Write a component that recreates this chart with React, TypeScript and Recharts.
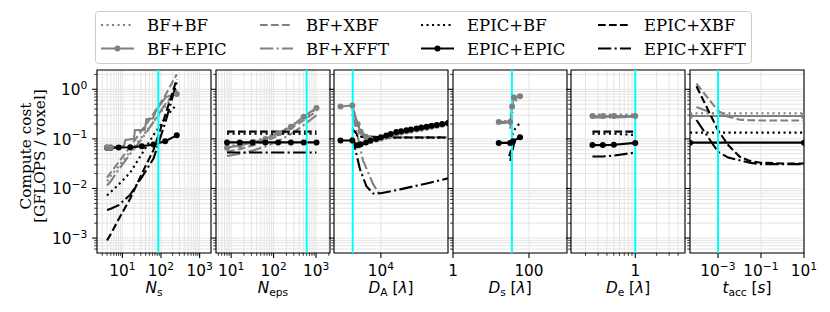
import React from "react";
import {
  LineChart,
  Line,
  XAxis,
  YAxis,
  CartesianGrid,
  ReferenceLine,
  ReferenceArea,
} from "recharts";

type Pt = [number, number];
type TickLabel = [number, string, string];

const GRAY = "#808080";
const BLACK = "#000000";
const CYAN = "#00ffff";
const GRID = "#e4e4e4";
const SERIF = "'DejaVu Serif', serif";
const SANS = "'DejaVu Sans', sans-serif";
const FS = 15.3;
const FS_SMALL = 10.7;
const FS_LEGEND = 16.5;

const SERIES_NAMES = ["BF+BF", "BF+EPIC", "BF+XBF", "BF+XFFT", "EPIC+BF", "EPIC+EPIC", "EPIC+XBF", "EPIC+XFFT"];

// shared log y axis
const Y_DOMAIN: [number, number] = [5e-4, 2.45];
const Y_MAJOR = [1e-3, 1e-2, 1e-1, 1];
const Y_EXP = ["−3", "−2", "−1", "0"];
const Y_MINOR = [
  6e-4, 7e-4, 8e-4, 9e-4,
  2e-3, 3e-3, 4e-3, 5e-3, 6e-3, 7e-3, 8e-3, 9e-3,
  2e-2, 3e-2, 4e-2, 5e-2, 6e-2, 7e-2, 8e-2, 9e-2,
  0.2, 0.3, 0.4, 0.5, 0.6, 0.7, 0.8, 0.9, 2,
];

// ---- panel 1: N_s ----
const NS_X = [4, 5, 8, 16, 32, 64, 128, 256];
const NS_BF_BF = [0.014, 0.018, 0.028, 0.056, 0.11, 0.22, 0.45, 0.9];
const NS_BF_EPIC: Pt[] = [
  [4, 0.068], [5, 0.068], [8, 0.07], [11, 0.072], [12, 0.095], [20, 0.1], [21, 0.15],
  [38, 0.152], [42, 0.25], [62, 0.26], [75, 0.38], [135, 0.7], [256, 0.8],
];
const NS_BF_EPIC_MARKS: Pt[] = [[4, 0.068], [5, 0.068], [256, 0.8]];
const NS_BF_XBF = [0.0165, 0.021, 0.034, 0.07, 0.15, 0.32, 0.75, 2.0];
const NS_BF_XFFT = [0.0115, 0.014, 0.024, 0.05, 0.1, 0.22, 0.5, 1.0];
const NS_EPIC_BF = [0.0072, 0.0085, 0.012, 0.021, 0.05, 0.12, 0.26, 0.5];
const NS_EPIC_EPIC = [0.066, 0.066, 0.067, 0.068, 0.071, 0.077, 0.09, 0.118];
const NS_EPIC_XBF = [0.0009, 0.0012, 0.0024, 0.0063, 0.02, 0.06, 0.3, 1.6];
const NS_EPIC_XFFT = [0.0037, 0.0039, 0.0046, 0.0075, 0.017, 0.04, 0.21, 1.4];
const NS_TICKS: TickLabel[] = [[10, "10", "1"], [100, "10", "2"], [1000, "10", "3"]];
const NS_MINOR = [3, 4, 5, 6, 7, 8, 9, 20, 30, 40, 50, 60, 70, 80, 90, 200, 300, 400, 500, 600, 700, 800, 900];

// ---- panel 2: N_eps ----
const NEPS_X = [8, 16, 32, 64, 128, 256, 512, 1024];
const NEPS_BF_BF = [0.07, 0.078, 0.09, 0.105, 0.135, 0.18, 0.27, 0.4];
const NEPS_BF_EPIC = [0.066, 0.074, 0.085, 0.1, 0.13, 0.175, 0.28, 0.42];
const NEPS_BF_XBF = [0.055, 0.062, 0.074, 0.09, 0.115, 0.16, 0.24, 0.36];
const NEPS_BF_XFFT = [0.045, 0.05, 0.058, 0.07, 0.09, 0.125, 0.19, 0.3];
const NEPS_EPIC_BF = [0.127, 0.127, 0.127, 0.127, 0.127, 0.127, 0.127, 0.127];
const NEPS_EPIC_EPIC = [0.085, 0.085, 0.085, 0.085, 0.085, 0.085, 0.085, 0.085];
const NEPS_EPIC_XBF = [0.14, 0.14, 0.14, 0.14, 0.14, 0.14, 0.14, 0.14];
const NEPS_EPIC_XFFT = [0.053, 0.053, 0.053, 0.053, 0.053, 0.053, 0.053, 0.053];
const NEPS_TICKS: TickLabel[] = [[10, "10", "1"], [100, "10", "2"], [1000, "10", "3"]];
const NEPS_MINOR = [5, 6, 7, 8, 9, 20, 30, 40, 50, 60, 70, 80, 90, 200, 300, 400, 500, 600, 700, 800, 900, 2000];

// ---- panel 3: D_A ----
const DA_X = [2500, 3750, 4500, 5000, 6000, 7000, 8500, 10000, 12000, 14000, 17000, 20000, 24000, 28000, 34000, 40000, 48000, 57000, 68000, 82000, 100000];
const DA_EPIC_EPIC = [0.093, 0.093, 0.074, 0.078, 0.085, 0.092, 0.1, 0.108, 0.117, 0.126, 0.137, 0.143, 0.149, 0.155, 0.162, 0.169, 0.176, 0.183, 0.191, 0.2, 0.21];
const DA_BF_EPIC = [0.45, 0.47, 0.2, 0.14, 0.11, 0.098, 0.097, 0.102, 0.11, 0.118, 0.128, 0.135, 0.141, 0.147, 0.154, 0.161, 0.168, 0.175, 0.183, 0.192, 0.202];
const DA_BF_BF: Pt[] = [[3750, 0.42], [4500, 0.19], [5000, 0.13], [6000, 0.11], [10000, 0.105], [100000, 0.105]];
const DA_BF_XBF: Pt[] = [[3750, 0.38], [4500, 0.2], [5000, 0.14], [6000, 0.115], [10000, 0.108], [100000, 0.108]];
const DA_BF_XFFT: Pt[] = [[3750, 0.32], [4100, 0.2], [5400, 0.037], [7600, 0.0125], [9600, 0.0075]];
const DA_EPIC_BF: Pt[] = [[3750, 0.145], [4500, 0.115], [6000, 0.107], [10000, 0.107], [100000, 0.107]];
const DA_EPIC_XBF: Pt[] = [[3750, 0.16], [4500, 0.12], [5000, 0.112], [6000, 0.108], [10000, 0.107], [100000, 0.107]];
const DA_EPIC_XFFT: Pt[] = [[3750, 0.11], [4900, 0.024], [6100, 0.011], [7700, 0.0079], [10000, 0.008], [20000, 0.0097], [50000, 0.0128], [100000, 0.016]];
const DA_TICKS: TickLabel[] = [[10000, "10", "4"]];

// ---- panel 4: D_s ----
const DS_BF_BF: Pt[] = [[16, 0.23], [32, 0.23], [36, 0.5], [58, 0.7]];
const DS_BF_EPIC: Pt[] = [[16, 0.22], [32, 0.22], [36, 0.45], [40, 0.68], [58, 0.72]];
const DS_BF_XBF: Pt[] = [[16, 0.21], [32, 0.21], [38, 0.35]];
const DS_BF_XFFT: Pt[] = [[32, 0.16], [36, 0.3]];
const DS_EPIC_BF: Pt[] = [[36, 0.12], [43, 0.16], [55, 0.2]];
const DS_EPIC_EPIC: Pt[] = [[16, 0.083], [32, 0.083], [38, 0.09], [58, 0.108]];
const DS_EPIC_XBF: Pt[] = [[32, 0.036], [38, 0.065], [43, 0.1]];
const DS_EPIC_XFFT: Pt[] = [[30, 0.045], [34, 0.06]];
const DS_TICKS: TickLabel[] = [[1, "1", ""], [100, "100", ""]];

// ---- panel 5: D_e ----
const DE_X = [0.25, 0.35, 0.5, 1];
const DE_BF_BF = [0.31, 0.31, 0.31, 0.31];
const DE_BF_EPIC = [0.29, 0.29, 0.29, 0.29];
const DE_BF_XBF = [0.28, 0.28, 0.28, 0.28];
const DE_BF_XFFT = [0.27, 0.27, 0.27, 0.28];
const DE_EPIC_BF = [0.127, 0.127, 0.127, 0.12];
const DE_EPIC_EPIC = [0.075, 0.075, 0.076, 0.083];
const DE_EPIC_XBF = [0.14, 0.14, 0.14, 0.14];
const DE_EPIC_XFFT = [0.044, 0.044, 0.046, 0.053];
const DE_TICKS: TickLabel[] = [[1, "1", ""]];
const DE_MINOR = [0.2, 0.3, 0.4, 0.5, 0.6, 0.7, 0.8, 0.9, 2, 3, 4];

// ---- panel 6: t_acc ----
const TA_BF_BF: Pt[] = [[5e-5, 0.33], [10, 0.33]];
const TA_BF_EPIC: Pt[] = [[5e-5, 0.29], [10, 0.29]];
const TA_BF_XBF: Pt[] = [[1e-4, 1.3], [1e-3, 0.37], [3e-3, 0.28], [1e-2, 0.245], [3e-2, 0.237], [0.1, 0.235], [1, 0.235], [10, 0.235]];
const TA_BF_XFFT: Pt[] = [[1e-4, 0.44], [1e-3, 0.3], [1e-2, 0.29], [10, 0.29]];
const TA_EPIC_BF: Pt[] = [[5e-5, 0.134], [10, 0.134]];
const TA_EPIC_EPIC: Pt[] = [[5e-5, 0.084], [10, 0.084]];
const TA_EPIC_XBF: Pt[] = [[1e-4, 1.15], [1e-3, 0.15], [3e-3, 0.075], [1e-2, 0.044], [3e-2, 0.036], [0.1, 0.033], [1, 0.032], [10, 0.032]];
const TA_EPIC_XFFT: Pt[] = [[1e-4, 0.24], [1e-3, 0.055], [3e-3, 0.042], [1e-2, 0.037], [3e-2, 0.033], [0.1, 0.031], [1, 0.031], [10, 0.031]];
const TA_TICKS: TickLabel[] = [[1e-3, "10", "−3"], [1e-1, "10", "−1"], [10, "10", "1"]];

// layout
const PANEL_LEFTS = [97, 216, 334, 453, 571, 690];
const PANEL_W = 114;
const PLOT_TOP = 70;
const PLOT_BOTTOM = 253;
const X_AXIS_H = 45;
const PAD_R = 22;

const STYLES: Record<string, { color: string; dash?: string; dot: boolean }> = {
  "BF+BF": { color: GRAY, dash: "2.1 3.4", dot: false },
  "BF+EPIC": { color: GRAY, dot: true },
  "BF+XBF": { color: GRAY, dash: "7.7 3.3", dot: false },
  "BF+XFFT": { color: GRAY, dash: "13.3 3.3 2.1 3.3", dot: false },
  "EPIC+BF": { color: BLACK, dash: "2.1 3.4", dot: false },
  "EPIC+EPIC": { color: BLACK, dot: true },
  "EPIC+XBF": { color: BLACK, dash: "7.7 3.3", dot: false },
  "EPIC+XFFT": { color: BLACK, dash: "13.3 3.3 2.1 3.3", dot: false },
};

const zip = (xs: number[], ys: number[]) => xs.map((x, i) => ({ x, y: ys[i] }));
const pts = (p: Pt[]) => p.map(([x, y]) => ({ x, y }));

type Series = { name: string; data: { x: number; y: number }[]; marks?: { x: number; y: number }[] };
type PanelDef = {
  domain: [number, number];
  major: TickLabel[];
  minor: number[];
  cyan: number;
  title: { main: string; sub: string; unit: string };
  series: Series[];
};

const PANELS: PanelDef[] = [
  {
    domain: [2.2, 1970], major: NS_TICKS, minor: NS_MINOR, cyan: 85,
    title: { main: "N", sub: "s", unit: "" },
    series: [
      { name: "BF+BF", data: zip(NS_X, NS_BF_BF) },
      { name: "BF+EPIC", data: pts(NS_BF_EPIC), marks: pts(NS_BF_EPIC_MARKS) },
      { name: "BF+XBF", data: zip(NS_X, NS_BF_XBF) },
      { name: "BF+XFFT", data: zip(NS_X, NS_BF_XFFT) },
      { name: "EPIC+BF", data: zip(NS_X, NS_EPIC_BF) },
      { name: "EPIC+EPIC", data: zip(NS_X, NS_EPIC_EPIC) },
      { name: "EPIC+XBF", data: zip(NS_X, NS_EPIC_XBF) },
      { name: "EPIC+XFFT", data: zip(NS_X, NS_EPIC_XFFT) },
    ],
  },
  {
    domain: [4.4, 2130], major: NEPS_TICKS, minor: NEPS_MINOR, cyan: 600,
    title: { main: "N", sub: "eps", unit: "" },
    series: [
      { name: "BF+BF", data: zip(NEPS_X, NEPS_BF_BF) },
      { name: "BF+EPIC", data: zip(NEPS_X, NEPS_BF_EPIC) },
      { name: "BF+XBF", data: zip(NEPS_X, NEPS_BF_XBF) },
      { name: "BF+XFFT", data: zip(NEPS_X, NEPS_BF_XFFT) },
      { name: "EPIC+BF", data: zip(NEPS_X, NEPS_EPIC_BF) },
      { name: "EPIC+EPIC", data: zip(NEPS_X, NEPS_EPIC_EPIC) },
      { name: "EPIC+XBF", data: zip(NEPS_X, NEPS_EPIC_XBF) },
      { name: "EPIC+XFFT", data: zip(NEPS_X, NEPS_EPIC_XFFT) },
    ],
  },
  {
    domain: [2000, 100000], major: DA_TICKS, minor: [], cyan: 3800,
    title: { main: "D", sub: "A", unit: "λ" },
    series: [
      { name: "BF+BF", data: pts(DA_BF_BF) },
      { name: "BF+EPIC", data: zip(DA_X, DA_BF_EPIC) },
      { name: "BF+XBF", data: pts(DA_BF_XBF) },
      { name: "BF+XFFT", data: pts(DA_BF_XFFT) },
      { name: "EPIC+BF", data: pts(DA_EPIC_BF) },
      { name: "EPIC+EPIC", data: zip(DA_X, DA_EPIC_EPIC) },
      { name: "EPIC+XBF", data: pts(DA_EPIC_XBF) },
      { name: "EPIC+XFFT", data: pts(DA_EPIC_XFFT) },
    ],
  },
  {
    domain: [1, 1000], major: DS_TICKS, minor: [], cyan: 35.5,
    title: { main: "D", sub: "s", unit: "λ" },
    series: [
      { name: "BF+BF", data: pts(DS_BF_BF) },
      { name: "BF+EPIC", data: pts(DS_BF_EPIC) },
      { name: "BF+XBF", data: pts(DS_BF_XBF) },
      { name: "BF+XFFT", data: pts(DS_BF_XFFT) },
      { name: "EPIC+BF", data: pts(DS_EPIC_BF) },
      { name: "EPIC+EPIC", data: pts(DS_EPIC_EPIC) },
      { name: "EPIC+XBF", data: pts(DS_EPIC_XBF) },
      { name: "EPIC+XFFT", data: pts(DS_EPIC_XFFT) },
    ],
  },
  {
    domain: [0.125, 5], major: DE_TICKS, minor: DE_MINOR, cyan: 1,
    title: { main: "D", sub: "e", unit: "λ" },
    series: [
      { name: "BF+BF", data: zip(DE_X, DE_BF_BF) },
      { name: "BF+EPIC", data: zip(DE_X, DE_BF_EPIC) },
      { name: "BF+XBF", data: zip(DE_X, DE_BF_XBF) },
      { name: "BF+XFFT", data: zip(DE_X, DE_BF_XFFT) },
      { name: "EPIC+BF", data: zip(DE_X, DE_EPIC_BF) },
      { name: "EPIC+EPIC", data: zip(DE_X, DE_EPIC_EPIC) },
      { name: "EPIC+XBF", data: zip(DE_X, DE_EPIC_XBF) },
      { name: "EPIC+XFFT", data: zip(DE_X, DE_EPIC_XFFT) },
    ],
  },
  {
    domain: [5e-5, 10], major: TA_TICKS, minor: [], cyan: 1e-3,
    title: { main: "t", sub: "acc", unit: "s" },
    series: [
      { name: "BF+BF", data: pts(TA_BF_BF) },
      { name: "BF+EPIC", data: pts(TA_BF_EPIC) },
      { name: "BF+XBF", data: pts(TA_BF_XBF) },
      { name: "BF+XFFT", data: pts(TA_BF_XFFT) },
      { name: "EPIC+BF", data: pts(TA_EPIC_BF) },
      { name: "EPIC+EPIC", data: pts(TA_EPIC_EPIC) },
      { name: "EPIC+XBF", data: pts(TA_EPIC_XBF) },
      { name: "EPIC+XFFT", data: pts(TA_EPIC_XFFT) },
    ],
  },
];

function makeXTick(labels: TickLabel[]) {
  return function XTick(props: any) {
    const { x, y, payload } = props;
    const lab = labels.find((l) => l[0] === payload.value);
    const len = lab ? 4.9 : 2.8;
    return (
      <g>
        <line x1={x} x2={x} y1={y} y2={y + len} stroke="#000" strokeWidth={lab ? 1.1 : 0.8} />
        {lab && (
          <text x={x} y={y + 23} textAnchor="middle" fontFamily={SANS} fontSize={FS} fill="#000">
            {lab[1]}
            {lab[2] && (
              <tspan dy={-6.5} fontSize={FS_SMALL}>
                {lab[2]}
              </tspan>
            )}
          </text>
        )}
      </g>
    );
  };
}

function YTick(props: any) {
  const { x, y, payload, showLabel } = props;
  const idx = Y_MAJOR.indexOf(payload.value);
  const major = idx >= 0;
  const len = major ? 4.9 : 2.8;
  return (
    <g>
      <line x1={x - len} x2={x} y1={y} y2={y} stroke="#000" strokeWidth={major ? 1.1 : 0.8} />
      {showLabel && major && (
        <text x={x - 9.8} y={y + 6} textAnchor="end" fontFamily={SANS} fontSize={FS} fill="#000">
          10
          <tspan dy={-6.5} fontSize={FS_SMALL}>
            {Y_EXP[idx]}
          </tspan>
        </text>
      )}
    </g>
  );
}

function AxisTitle(props: any) {
  const { viewBox, t } = props;
  const cx = viewBox.x + viewBox.width / 2;
  const y = viewBox.y + 39.5;
  return (
    <text x={cx} y={y} textAnchor="middle" fontFamily={SANS} fontSize={FS} fill="#000" style={{ whiteSpace: "pre" }}>
      <tspan fontStyle="italic">{t.main}</tspan>
      <tspan fontSize={FS_SMALL} dy={3}>
        {t.sub}
      </tspan>
      {t.unit && <tspan dy={-3}> [</tspan>}
      {t.unit && <tspan fontStyle="italic">{t.unit}</tspan>}
      {t.unit && <tspan>]</tspan>}
    </text>
  );
}

function YTitle() {
  const cy = 156;
  return (
    <g fontFamily={SERIF} fontSize={FS} fill="#000">
      <text transform={`rotate(-90, 31, ${cy})`} x={31} y={cy} textAnchor="middle">
        Compute cost
      </text>
      <text transform={`rotate(-90, 45, ${cy})`} x={45} y={cy} textAnchor="middle">
        [GFLOPS / voxel]
      </text>
    </g>
  );
}

function Panel({ p, index }: { p: PanelDef; index: number }) {
  const first = index === 0;
  const padL = first ? PANEL_LEFTS[0] : 12;
  const left = PANEL_LEFTS[index] - padL;
  const width = padL + PANEL_W + PAD_R;
  const xTicks = [...p.major.map((m) => m[0]), ...p.minor].sort((a, b) => a - b);
  const yTicks = [...Y_MAJOR, ...Y_MINOR].sort((a, b) => a - b);
  return (
    <div style={{ position: "absolute", left, top: 0 }}>
      <LineChart
        width={width}
        height={312}
        margin={{ top: PLOT_TOP, right: PAD_R, bottom: 312 - PLOT_BOTTOM - X_AXIS_H, left: 0 }}
      >
        <CartesianGrid stroke={GRID} strokeWidth={1} />
        <XAxis
          type="number"
          dataKey="x"
          scale="log"
          domain={p.domain}
          allowDataOverflow
          ticks={xTicks}
          interval={0}
          tickSize={0}
          tickMargin={0}
          tickLine={false}
          axisLine={false}
          height={X_AXIS_H}
          tick={makeXTick(p.major)}
          label={<AxisTitle t={p.title} />}
        />
        <YAxis
          type="number"
          dataKey="y"
          scale="log"
          domain={Y_DOMAIN}
          allowDataOverflow
          ticks={yTicks}
          interval={0}
          tickSize={0}
          tickMargin={0}
          tickLine={false}
          axisLine={false}
          width={padL}
          tick={(props: any) => <YTick {...props} showLabel={first} />}
          label={first ? <YTitle /> : undefined}
        />
        {p.series.map((s) => {
          const st = STYLES[s.name];
          const dotOn = st.dot && !s.marks;
          return (
            <Line
              key={s.name}
              data={s.data}
              dataKey="y"
              name={s.name}
              type="linear"
              stroke={st.color}
              strokeWidth={2.1}
              strokeDasharray={st.dash}
              dot={dotOn ? { r: 3, fill: st.color, stroke: st.color, strokeWidth: 0 } : false}
              activeDot={false}
              isAnimationActive={false}
            />
          );
        })}
        {p.series
          .filter((s) => s.marks)
          .map((s) => (
            <Line
              key={s.name + "-marks"}
              data={s.marks}
              dataKey="y"
              type="linear"
              stroke="none"
              dot={{ r: 3, fill: STYLES[s.name].color, stroke: STYLES[s.name].color, strokeWidth: 0 }}
              activeDot={false}
              isAnimationActive={false}
            />
          ))}
        <ReferenceLine x={p.cyan} stroke={CYAN} strokeWidth={2} />
        <ReferenceArea
          x1={p.domain[0]}
          x2={p.domain[1]}
          y1={Y_DOMAIN[0]}
          y2={Y_DOMAIN[1]}
          fill="none"
          fillOpacity={0}
          stroke="#000"
          strokeWidth={1.1}
          strokeOpacity={1}
        />
      </LineChart>
    </div>
  );
}

const LEG_COL_X = [101, 260, 421, 598];
const LEG_ROW_Y = [25, 48.5];
const LEG_HANDLE = 33;

function LegendBox() {
  return (
    <svg style={{ position: "absolute", left: 0, top: 0 }} width={830} height={70}>
      <rect x={95.5} y={11.5} width={656} height={52} rx={3} fill="#fff" fillOpacity={0.8} stroke="#cccccc" />
      {SERIES_NAMES.map((name, i) => {
        const col = Math.floor(i / 2);
        const row = i % 2;
        const hx = LEG_COL_X[col];
        const hy = LEG_ROW_Y[row];
        const st = STYLES[name];
        return (
          <g key={name}>
            <line x1={hx} x2={hx + LEG_HANDLE} y1={hy} y2={hy} stroke={st.color} strokeWidth={2.1} strokeDasharray={st.dash} />
            {st.dot && <circle cx={hx + LEG_HANDLE / 2} cy={hy} r={3} fill={st.color} />}
            <text x={hx + 46} y={hy + 6} fontFamily={SERIF} fontSize={FS_LEGEND} fill="#000">
              {name}
            </text>
          </g>
        );
      })}
    </svg>
  );
}

export default function App() {
  return (
    <div style={{ position: "fixed", left: 0, top: 0, width: 830, height: 312, background: "#fff", overflow: "hidden" }}>
      {PANELS.map((p, i) => (
        <Panel key={i} p={p} index={i} />
      ))}
      <LegendBox />
    </div>
  );
}
